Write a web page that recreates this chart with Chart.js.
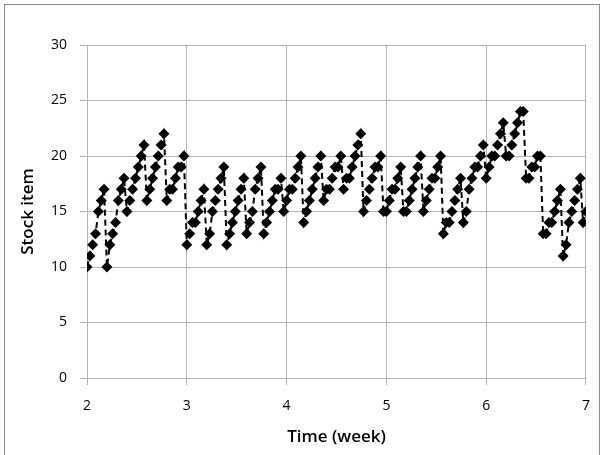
<!DOCTYPE html>
<html>
<head>
<meta charset="utf-8">
<script src="https://cdn.jsdelivr.net/npm/chart.js@4.4.1/dist/chart.umd.min.js"></script>
<style>
  html, body { margin: 0; padding: 0; background: #fff; }
  #wrap { width: 603px; height: 455px; position: relative; }
</style>
</head>
<body>
<div id="wrap"><canvas id="stock-chart" width="603" height="455"></canvas></div>
<script>
// Tempo (semanas) de cada leitura
const times = [
  2.000, 2.029, 2.057, 2.086, 2.114, 2.143, 2.171, 2.200, 2.229, 2.257,
  2.286, 2.314, 2.343, 2.371, 2.400, 2.429, 2.457, 2.486, 2.514, 2.543,
  2.571, 2.600, 2.629, 2.657, 2.686, 2.714, 2.743, 2.771, 2.800, 2.829,
  2.857, 2.886, 2.914, 2.943, 2.971, 3.000, 3.029, 3.057, 3.086, 3.114,
  3.143, 3.171, 3.200, 3.229, 3.257, 3.286, 3.314, 3.343, 3.371, 3.400,
  3.429, 3.457, 3.486, 3.514, 3.543, 3.571, 3.600, 3.629, 3.657, 3.686,
  3.714, 3.743, 3.771, 3.800, 3.829, 3.857, 3.886, 3.914, 3.943, 3.971,
  4.000, 4.029, 4.057, 4.086, 4.114, 4.143, 4.171, 4.200, 4.229, 4.257,
  4.286, 4.314, 4.343, 4.371, 4.400, 4.429, 4.457, 4.486, 4.514, 4.543,
  4.571, 4.600, 4.629, 4.657, 4.686, 4.714, 4.743, 4.771, 4.800, 4.829,
  4.857, 4.886, 4.914, 4.943, 4.971, 5.000, 5.029, 5.057, 5.086, 5.114,
  5.143, 5.171, 5.200, 5.229, 5.257, 5.286, 5.314, 5.343, 5.371, 5.400,
  5.429, 5.457, 5.486, 5.514, 5.543, 5.571, 5.600, 5.629, 5.657, 5.686,
  5.714, 5.743, 5.771, 5.800, 5.829, 5.857, 5.886, 5.914, 5.943, 5.971,
  6.000, 6.029, 6.057, 6.086, 6.114, 6.143, 6.171, 6.200, 6.229, 6.257,
  6.286, 6.314, 6.343, 6.371, 6.400, 6.429, 6.457, 6.486, 6.514, 6.543,
  6.571, 6.600, 6.629, 6.657, 6.686, 6.714, 6.743, 6.771, 6.800, 6.829,
  6.857, 6.886, 6.914, 6.943, 6.971, 7.000
];

// Itens em estoque
const stock = [
  10, 11, 12, 13, 15, 16, 17, 10, 12, 13, 14, 16, 17, 18, 15, 16, 17, 18, 19, 20,
  21, 16, 17, 18, 19, 20, 21, 22, 16, 17, 17, 18, 19, 19, 20,
  12, 13, 14, 14, 15, 16, 17, 12, 13, 15, 16, 17, 18, 19, 12, 13, 14, 15, 16, 17,
  18, 13, 14, 15, 17, 18, 19, 13, 14, 15, 16, 17, 17, 18, 15, 16,
  17, 17, 18, 19, 20, 14, 15, 16, 17, 18, 19, 20, 16, 17, 17, 18, 19, 19, 20, 17,
  18, 18, 19, 20, 21, 22, 15, 16, 17, 18, 19, 19, 20, 15, 15,
  16, 17, 17, 18, 19, 15, 15, 16, 17, 18, 19, 20, 15, 16, 17, 18, 18, 19, 20, 13,
  14, 14, 15, 16, 17, 18, 14, 15, 17, 18, 19, 19, 20, 21, 18,
  19, 20, 20, 21, 22, 23, 20, 20, 21, 22, 23, 24, 24, 18, 18, 19, 19, 20, 20, 13,
  13, 14, 14, 15, 16, 17, 11, 12, 14, 15, 16, 17, 18, 14, 15
];

const xTicks = [2, 3, 4, 5, 6, 7];
const yTicks = [0, 5, 10, 15, 20, 25, 30];

const pontos = times.map((t, i) => ({ x: t, y: stock[i] }));

/* moldura cinza em volta do gráfico (a borda de baixo fica fora da imagem) */
const moldura = {
  id: 'moldura',
  afterDraw(chart) {
    const c = chart.ctx;
    c.save();
    c.strokeStyle = '#8c8c8c';
    c.lineWidth = 1;
    c.strokeRect(4.5, 4.5, 595, 460);
    c.restore();
  }
};

const gridColor = '#b4b4b4';

new Chart(document.getElementById('stock-chart'), {
  type: 'line',
  data: {
    datasets: [{
      label: 'Stock item',
      data: pontos,
      borderColor: '#000',
      borderWidth: 2,
      borderDash: [6, 4],
      pointStyle: 'rectRot',
      pointRadius: 5.5,
      pointBackgroundColor: '#000',
      pointBorderColor: '#000',
      pointBorderWidth: 0,
      tension: 0,
      fill: false
    }]
  },
  options: {
    responsive: false,
    animation: false,
    layout: { padding: { top: 45, right: 16, bottom: 0, left: 0 } },
    plugins: { legend: { display: false }, tooltip: { enabled: false } },
    scales: {
      x: {
        type: 'linear',
        min: 2, max: 7,
        afterBuildTicks: axis => { axis.ticks = xTicks.map(v => ({ value: v })); },
        afterFit: axis => { axis.height = 77; },
        grid: { color: gridColor, lineWidth: 1, tickLength: 7, drawTicks: true },
        border: { color: gridColor },
        ticks: { color: '#000', font: { family: 'Open Sans', size: 14 }, padding: 13, maxRotation: 0 },
        title: { display: true, text: 'Time (week)', color: '#000', font: { family: 'Open Sans', size: 17, weight: '600' }, padding: { top: 0, bottom: 8 } }
      },
      y: {
        min: 0, max: 30,
        afterBuildTicks: axis => { axis.ticks = yTicks.map(v => ({ value: v })); },
        afterFit: axis => { axis.width = 87; },
        grid: { color: gridColor, lineWidth: 1, tickLength: 7, drawTicks: true },
        border: { color: gridColor },
        ticks: { color: '#000', font: { family: 'Open Sans', size: 14 }, padding: 13 },
        title: { display: true, text: 'Stock item', color: '#000', font: { family: 'Open Sans', size: 17, weight: '600' }, padding: { top: 18, bottom: 0 } }
      }
    }
  },
  plugins: [moldura]
});
</script>
</body>
</html>
